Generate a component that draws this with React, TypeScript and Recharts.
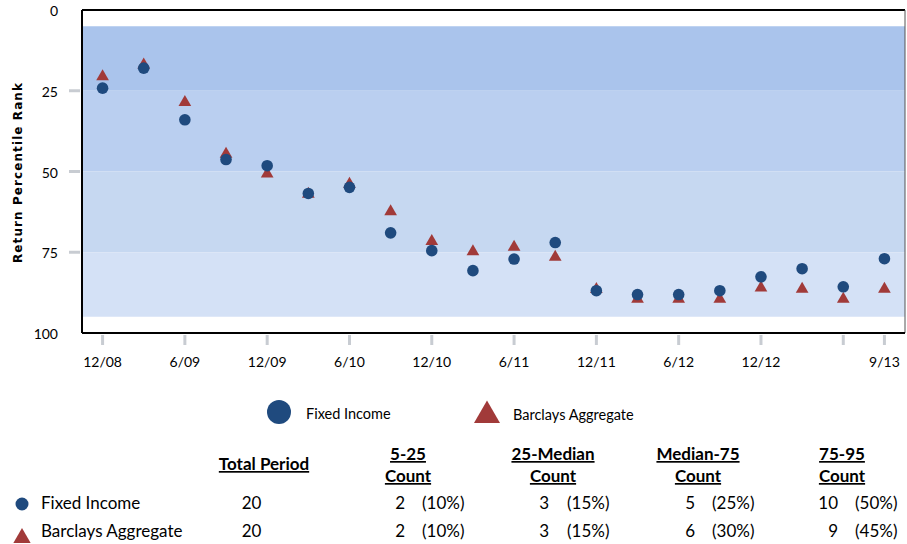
import React from 'react';
import { ScatterChart, Scatter, XAxis, YAxis, ReferenceArea, ReferenceLine } from 'recharts';

const quarters = ['12/08','3/09','6/09','9/09','12/09','3/10','6/10','9/10','12/10','3/11','6/11','9/11','12/11','3/12','6/12','9/12','12/12','3/13','6/13','9/13'];
const tickIndices = [0, 2, 4, 6, 8, 10, 12, 14, 16, 18, 19];
const tickLabels = ['12/08','6/09','12/09','6/10','12/10','6/11','12/11','6/12','12/12','','9/13'];
const yTicks = [0, 25, 50, 75, 100];
const yMarkedTicks = [25, 50, 75];

const fixedIncome = [24.2, 18.0, 34.0, 46.3, 48.2, 56.8, 54.9, 69.0, 74.5, 80.7, 77.1, 72.0, 86.9, 88.1, 88.1, 86.9, 82.6, 80.1, 85.7, 77.0];
const barclays = [20.6, 17.0, 28.6, 44.6, 50.7, 57.0, 53.9, 62.4, 71.6, 74.8, 73.4, 76.5, 86.5, 89.5, 89.5, 89.5, 86.0, 86.4, 89.5, 86.4];

const bandEdges = [5, 25, 50, 75, 95];
const bandColors = ['#AAC4EC', '#BACFF0', '#C6D8F1', '#D4E1F6'];

const seriesNames = ['Fixed Income', 'Barclays Aggregate'];
const headers = [['Total Period'], ['5-25', 'Count'], ['25-Median', 'Count'], ['Median-75', 'Count'], ['75-95', 'Count']];
const totals = [20, 20];
const counts = [[2, 3, 5, 10], [2, 3, 6, 9]];
const percents = [['(10%)', '(15%)', '(25%)', '(50%)'], ['(10%)', '(15%)', '(30%)', '(45%)']];

const BLUE = '#1F4A7E';
const RED = '#A13A39';
const FONT = 'Lato, "Open Sans", sans-serif';

const fiData = fixedIncome.map((v, i) => ({ x: i, y: v, q: quarters[i] }));
const baData = barclays.map((v, i) => ({ x: i, y: v, q: quarters[i] }));

const triPoints = (cx: number, cy: number, h: number) => {
  const w = h / Math.sqrt(3);
  return `${cx},${cy - (2 * h) / 3} ${cx - w},${cy + h / 3} ${cx + w},${cy + h / 3}`;
};

const CircleShape = (props: any) => <circle cx={props.cx} cy={props.cy} r={5.8} fill={BLUE} />;
const TriShape = (props: any) => <polygon points={triPoints(props.cx, props.cy, 11)} fill={RED} />;

const XTick = (props: any) => {
  const { x, y, payload } = props;
  const idx = tickIndices.indexOf(payload.value);
  return (
    <g>
      <line x1={x} x2={x} y1={y + 2} y2={y + 12} stroke="#C8CCD2" strokeWidth={3} />
      <text x={x} y={y + 34} textAnchor="middle" fontFamily={FONT} fontSize={14} fill="#000">{tickLabels[idx]}</text>
    </g>
  );
};

const YTick = (props: any) => {
  const { x, y, payload } = props;
  return (
    <g>
      {yMarkedTicks.includes(payload.value) && (
        <line x1={x - 13} x2={x - 2} y1={y} y2={y} stroke="#C8CCD2" strokeWidth={3} />
      )}
      <text x={x - 24} y={y + 6} textAnchor="end" fontFamily={FONT} fontSize={14} fill="#000">{payload.value}</text>
    </g>
  );
};

const colCenters = [264, 408, 553, 698, 842];
const countRight = [405, 549, 695, 838];
const pctLeft = [422, 567, 712, 855];
const rowBase = [509, 537];

export default function App() {
  return (
    <div style={{ position: 'absolute', left: 0, top: 0, width: 907, height: 544, background: '#fff', overflow: 'hidden' }}>
      <ScatterChart width={907} height={390} margin={{ top: 10, right: 2, bottom: 17, left: 0 }}>
        {bandColors.map((c, i) => (
          <ReferenceArea key={i} y1={bandEdges[i]} y2={bandEdges[i + 1]} fill={c} fillOpacity={1} stroke="none" ifOverflow="visible" />
        ))}
        <XAxis
          type="number"
          dataKey="x"
          domain={[-0.5, 19.5]}
          ticks={tickIndices}
          interval={0}
          height={40}
          tickSize={0}
          tickMargin={0}
          axisLine={{ stroke: '#000', strokeWidth: 2 }}
          tickLine={false}
          tick={<XTick />}
          allowDataOverflow
        />
        <YAxis
          type="number"
          dataKey="y"
          domain={[0, 100]}
          reversed
          ticks={yTicks}
          interval={0}
          width={82}
          tickSize={0}
          tickMargin={0}
          axisLine={{ stroke: '#000', strokeWidth: 2 }}
          tickLine={false}
          tick={<YTick />}
        />
        <ReferenceLine y={0} stroke="#000" strokeWidth={2} ifOverflow="visible" />
        <ReferenceLine x={19.5} stroke="#555" strokeWidth={1} ifOverflow="visible" />
        <Scatter name={seriesNames[1]} data={baData} shape={TriShape} isAnimationActive={false} />
        <Scatter name={seriesNames[0]} data={fiData} shape={CircleShape} isAnimationActive={false} />
      </ScatterChart>
      <svg width={907} height={544} style={{ position: 'absolute', left: 0, top: 0, pointerEvents: 'none' }}>
        <text
          x={18}
          y={173}
          transform="rotate(-90 18 173)"
          textAnchor="middle"
          dominantBaseline="central"
          fontFamily='"DejaVu Sans", sans-serif'
          fontWeight="bold"
          fontSize={12}
          textLength={180}
          lengthAdjust="spacing"
          fill="#000"
        >
          Return Percentile Rank
        </text>
        {/* legend */}
        <circle cx={279} cy={412} r={12} fill={BLUE} />
        <text x={306} y={419} fontFamily={FONT} fontSize={14.5} fill="#000">{seriesNames[0]}</text>
        <polygon points={triPoints(487, 415.5, 22.5)} fill={RED} />
        <text x={513} y={420} fontFamily={FONT} fontSize={14.5} fill="#000">{seriesNames[1]}</text>
        {/* table headers */}
        <text x={colCenters[0]} y={470} textAnchor="middle" fontFamily={FONT} fontWeight="bold" fontSize={17} textDecoration="underline" fill="#000">{headers[0][0]}</text>
        {headers.slice(1).map((h, i) => (
          <g key={i}>
            <text x={colCenters[i + 1]} y={460} textAnchor="middle" fontFamily={FONT} fontWeight="bold" fontSize={17} textDecoration="underline" fill="#000">{h[0]}</text>
            <text x={colCenters[i + 1]} y={482} textAnchor="middle" fontFamily={FONT} fontWeight="bold" fontSize={17} textDecoration="underline" fill="#000">{h[1]}</text>
          </g>
        ))}
        {/* table rows */}
        <circle cx={22} cy={504} r={6.5} fill={BLUE} />
        <polygon points={triPoints(22, 538, 15)} fill={RED} />
        {seriesNames.map((n, r) => (
          <g key={n}>
            <text x={41} y={rowBase[r]} fontFamily={FONT} fontSize={17} fill="#000">{n}</text>
            <text x={251.5} y={rowBase[r]} textAnchor="middle" fontFamily={FONT} fontSize={17} fill="#000">{totals[r]}</text>
            {counts[r].map((c, j) => (
              <g key={j}>
                <text x={countRight[j]} y={rowBase[r]} textAnchor="end" fontFamily={FONT} fontSize={17} fill="#000">{c}</text>
                <text x={pctLeft[j]} y={rowBase[r]} fontFamily={FONT} fontSize={17} fill="#000">{percents[r][j]}</text>
              </g>
            ))}
          </g>
        ))}
      </svg>
    </div>
  );
}
